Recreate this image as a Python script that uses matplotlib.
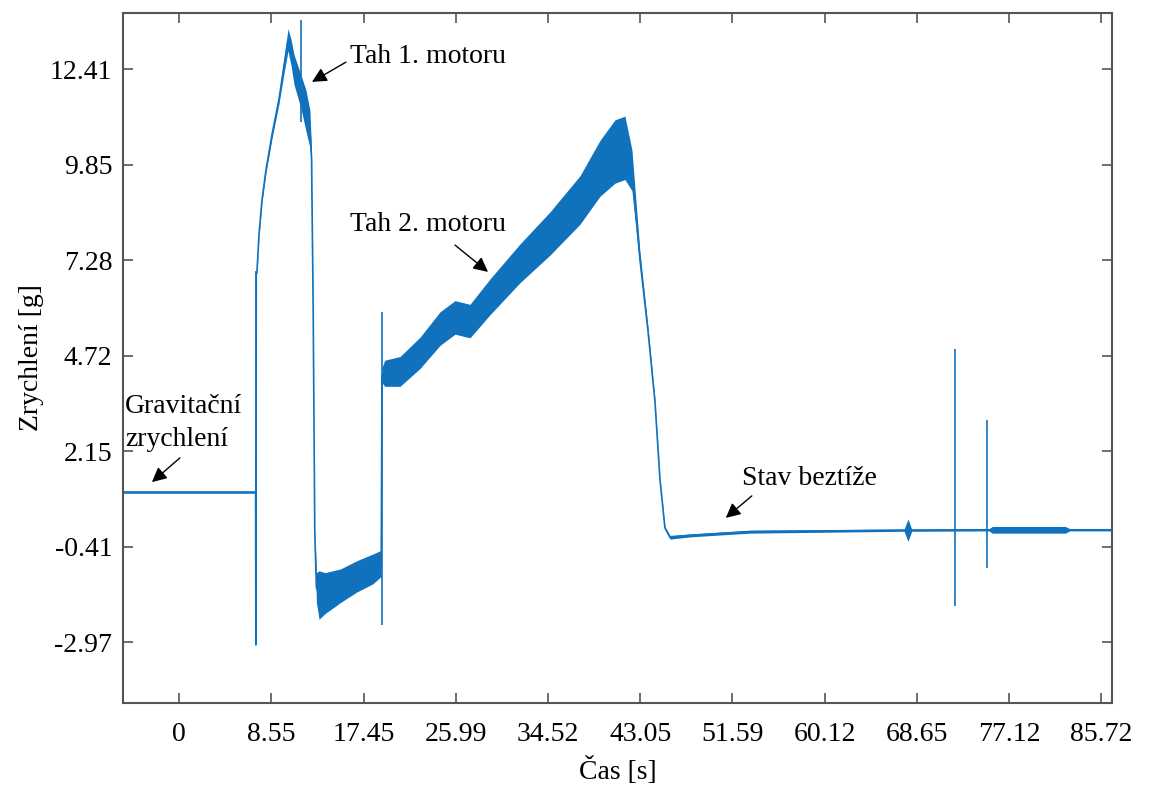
import matplotlib
matplotlib.use("Agg")
import matplotlib.pyplot as plt
import numpy as np

# ---- data ----
# time [s], centre of the acceleration trace [g], half-width of noise band [g]
t_s = [-5.21, 7.10, 7.12, 7.16, 7.23, 7.41, 7.69, 8.06, 8.62, 9.27, 9.74, 10.11,
       10.4, 10.67, 11.32, 11.78, 12.15, 12.3, 12.45, 12.6, 12.75, 13.0, 13.55,
       15.0, 16.5, 18.0, 18.78, 18.85, 19.1, 20.53, 22.39, 24.25, 25.64, 27.03,
       28.89, 31.68, 34.47, 37.26, 39.12, 40.51, 41.44, 42.09, 42.84, 43.58,
       44.23, 44.70, 45.16, 45.63, 47.49, 53.07, 67.4, 67.76, 68.1, 75.3, 75.6,
       82.4, 82.8, 86.73]
acc_g = [1.06, 1.06, -3.04, 6.9, 7.0, 7.96, 8.9, 9.7, 10.65, 11.6, 12.5, 13.2,
         12.85, 12.4, 11.8, 11.3, 10.8, 10.0, 6.0, 0.0, -1.5, -1.7, -1.65,
         -1.45, -1.2, -1.0, -0.85, 4.2, 4.25, 4.3, 4.8, 5.45, 5.75, 5.65,
         6.3, 7.2, 8.0, 8.9, 9.75, 10.2, 10.3, 9.7, 7.3, 5.4,
         3.5, 1.4, 0.1, -0.15, -0.1, 0.0, 0.04, 0.04, 0.04, 0.05, 0.05,
         0.05, 0.05, 0.05]
noise_g = [0.03, 0.03, 0.0, 0.0, 0.05, 0.06, 0.07, 0.08, 0.1, 0.12, 0.2, 0.3,
           0.35, 0.4, 0.45, 0.55, 0.5, 0.2, 0.05, 0.05, 0.4, 0.65, 0.55,
           0.45, 0.42, 0.4, 0.35, 0.2, 0.35, 0.4, 0.42, 0.45, 0.45, 0.45,
           0.48, 0.52, 0.58, 0.65, 0.75, 0.85, 0.85, 0.55, 0.2, 0.1,
           0.05, 0.03, 0.03, 0.05, 0.04, 0.04, 0.03, 0.3, 0.03, 0.03, 0.09,
           0.09, 0.03, 0.03]

# isolated spikes: time, min, max
spike_t = [7.12, 11.32, 18.85, 72.13, 75.11]
spike_lo = [-3.04, 11.0, -2.5, -2.0, -0.97]
spike_hi = [7.0, 13.73, 5.9, 4.9, 3.0]

x_tick_labels = ["0", "8.55", "17.45", "25.99", "34.52", "43.05", "51.59",
                 "60.12", "68.65", "77.12", "85.72"]
y_tick_labels = ["12.41", "9.85", "7.28", "4.72", "2.15", "-0.41", "-2.97"]

# ---- figure ----
plt.rcParams["font.family"] = ["Liberation Serif", "DejaVu Serif"]
fig = plt.figure(figsize=(11.54, 7.87), dpi=100)
ax = fig.add_axes([0.1068, 0.1071, 0.9634 - 0.1068, 0.9831 - 0.1071])

blue = "#1071bd"
t = np.array(t_s)
a = np.array(acc_g)
n = np.array(noise_g)
ax.fill_between(t, a - n, a + n, color=blue, linewidth=0)
ax.plot(t, a, color=blue, lw=1.2)
ax.vlines(spike_t, spike_lo, spike_hi, color=blue, lw=1.2)

ax.set_xlim(-5.21, 86.71)
ax.set_ylim(-4.59, 13.91)

x_pos = np.linspace(0, 85.72, len(x_tick_labels))
ax.set_xticks(x_pos)
ax.set_xticklabels(x_tick_labels)
y_pos = np.linspace(12.41, -2.97, len(y_tick_labels))
ax.set_yticks(y_pos)
ax.set_yticklabels(y_tick_labels)

for s in ax.spines.values():
    s.set_color("#555555")
    s.set_linewidth(1.5)
ax.tick_params(direction="in", length=7, width=1.2, color="#555555",
               top=True, right=True, labelsize=20, labelcolor="black")
ax.tick_params(axis="x", pad=14)
ax.tick_params(axis="y", pad=8)

ax.set_xlabel("Čas [s]", fontsize=20, labelpad=7)
ax.set_ylabel("Zrychlení [g]", fontsize=20, labelpad=4)

arrow = dict(arrowstyle="-|>", color="black", lw=1.0, mutation_scale=22,
             shrinkA=0, shrinkB=0)
ax.annotate("", xy=(12.34, 12.07), xytext=(15.5, 12.6), arrowprops=arrow)
ax.text(15.88, 12.74, "Tah 1. motoru", fontsize=20, va="center", ha="left")

ax.annotate("", xy=(28.71, 6.97), xytext=(25.64, 7.69), arrowprops=arrow)
ax.text(15.88, 8.23, "Tah 2. motoru", fontsize=20, va="center", ha="left")

ax.annotate("", xy=(-2.54, 1.33), xytext=(0.06, 1.98), arrowprops=arrow)
ax.text(-5.05, 3.35, "Gravitační", fontsize=20, va="center", ha="left")
ax.text(-5.05, 2.46, "zrychlení", fontsize=20, va="center", ha="left")

ax.annotate("", xy=(50.82, 0.37), xytext=(53.24, 0.96), arrowprops=arrow)
ax.text(52.33, 1.44, "Stav beztíže", fontsize=20, va="center", ha="left")

fig.savefig("out.png", dpi=100)
